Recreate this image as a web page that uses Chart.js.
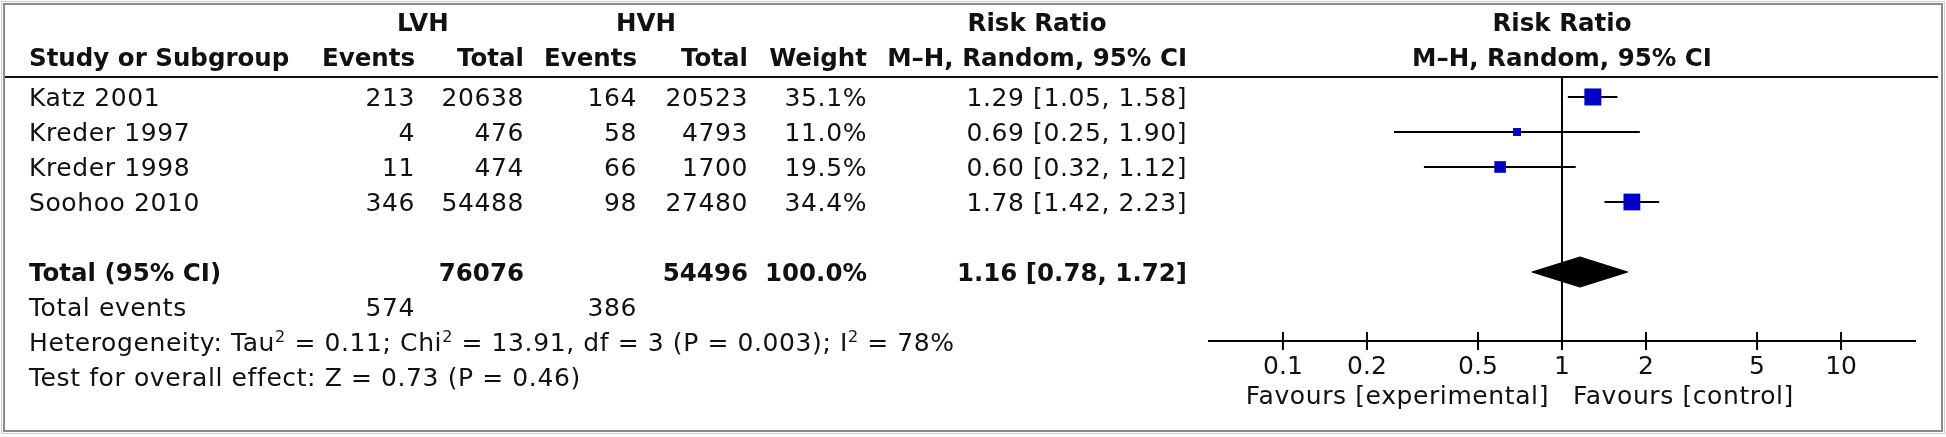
<!DOCTYPE html>
<html>
<head>
<meta charset="utf-8">
<title>Forest plot LVH vs HVH</title>
<script src="https://cdn.jsdelivr.net/npm/chart.js@4.4.1/dist/chart.umd.min.js"></script>
<style>
  html, body { margin: 0; padding: 0; background: #fff; }
  #forest { display: block; }
</style>
</head>
<body>
<canvas id="forest" width="1946" height="437"></canvas>
<script>
// estudios y datos
const studies = ["Katz 2001", "Kreder 1997", "Kreder 1998", "Soohoo 2010"];
const lvhEvents = [213, 4, 11, 346];
const lvhTotal = [20638, 476, 474, 54488];
const hvhEvents = [164, 58, 66, 98];
const hvhTotal = [20523, 4793, 1700, 27480];
const weights = [35.1, 11.0, 19.5, 34.4];
const riskRatio = [1.29, 0.69, 0.60, 1.78];
const ciLow = [1.05, 0.25, 0.32, 1.42];
const ciHigh = [1.58, 1.90, 1.12, 2.23];

// totales
const totalN = [76076, 54496];
const totalEvents = [574, 386];
const pooled = [1.16, 0.78, 1.72]; // RR, low, high
const hetStats = [0.11, 13.91, 3, "0.003", 78]; // Tau2, Chi2, df, P, I2
const overall = [0.73, 0.46]; // Z, P

const xTicks = [0.1, 0.2, 0.5, 1, 2, 5, 10];

const FONT = '"DejaVu Sans", "Lucida Grande", sans-serif';
const FS = 25;      // texto normal
const FSB = 24.5;   // texto en negrita
const SPACING = "0.6px";
const INK = "#111";
const BLUE = "#0000c8";

// filas (eje y oculto): estudios 0..3, total en 5, texto de pie 6..8
const totalRow = studies.length + 1;
const yMin = -0.57, yMax = 6.97;

// columnas de la tabla (borde derecho)
const col = { study: 29, lvhE: 415, lvhT: 524, hvhE: 637, hvhT: 748, w: 867, ci: 1187 };

const fmtCI = (v, l, h) => v.toFixed(2) + " [" + l.toFixed(2) + ", " + h.toFixed(2) + "]";

// lado del cuadrado según el peso
const sideFor = (w) => 17 * Math.pow(w / 35.1, 0.65);

// datasets
const datasets = [];
// línea vertical de no efecto
datasets.push({
  type: "line", data: [{ x: 1, y: yMin }, { x: 1, y: yMax }],
  borderColor: "#000", borderWidth: 2, pointRadius: 0, order: 5,
});
// intervalos de confianza
studies.forEach((s, i) => {
  datasets.push({
    type: "line", data: [{ x: ciLow[i], y: i }, { x: ciHigh[i], y: i }],
    borderColor: "#000", borderWidth: 2, pointRadius: 0, order: 4,
  });
});
// cuadrados
datasets.push({
  type: "scatter",
  data: riskRatio.map((v, i) => ({ x: v, y: i })),
  pointStyle: "rect",
  pointRadius: weights.map((w) => sideFor(w) / Math.SQRT2),
  pointHoverRadius: weights.map((w) => sideFor(w) / Math.SQRT2),
  backgroundColor: BLUE, borderColor: BLUE, borderWidth: 0, order: 1,
});
// rombo del efecto combinado
const dh = 0.43;
datasets.push({
  type: "line",
  data: [
    { x: pooled[1], y: totalRow }, { x: pooled[0], y: totalRow - dh },
    { x: pooled[2], y: totalRow }, { x: pooled[0], y: totalRow + dh },
    { x: pooled[1], y: totalRow },
  ],
  fill: "shape", backgroundColor: "#000", borderColor: "#000",
  borderWidth: 1, pointRadius: 0, tension: 0, order: 2,
});

function setFont(ctx, bold, size) {
  ctx.font = (bold ? "bold " : "") + (size || (bold ? FSB : FS)) + "px " + FONT;
  ctx.letterSpacing = bold ? "0px" : SPACING;
}

function text(ctx, str, x, y, align, bold, size) {
  setFont(ctx, bold, size);
  ctx.textAlign = align || "left";
  ctx.fillText(str, x, y);
}

// texto con superíndices
function rich(ctx, parts, x, y) {
  let cx = x;
  ctx.textAlign = "left";
  parts.forEach((p) => {
    if (p.sup) {
      setFont(ctx, false, Math.round(FS * 0.62));
      ctx.fillText(p.t, cx, y - FS * 0.36);
    } else {
      setFont(ctx, false, FS);
      ctx.fillText(p.t, cx, y);
    }
    cx += ctx.measureText(p.t).width;
  });
}

const tablePlugin = {
  id: "table",
  beforeDraw(chart) {
    const c = chart.ctx;
    c.save();
    c.fillStyle = "#fff";
    c.fillRect(0, 0, chart.width, chart.height);
    c.strokeStyle = "#d0d0d0"; c.lineWidth = 1;
    c.strokeRect(1.5, 1.5, chart.width - 3, chart.height - 5);
    c.strokeStyle = "#8a8a8a"; c.lineWidth = 2;
    c.strokeRect(4, 4, chart.width - 8, chart.height - 10);
    c.restore();
  },
  afterDraw(chart) {
    const c = chart.ctx;
    const ys = chart.scales.y, xs = chart.scales.x;
    const rowY = (r) => ys.getPixelForValue(r) + FS * 0.36;
    c.save();
    c.fillStyle = INK;
    c.textBaseline = "alphabetic";

    // regla del encabezado
    c.strokeStyle = "#111"; c.lineWidth = 2;
    c.beginPath(); c.moveTo(5, chart.chartArea.top); c.lineTo(1938, chart.chartArea.top); c.stroke();

    // encabezados
    const h1 = rowY(-2.14), h2 = rowY(-1.14);
    setFont(c, true);
    const evW = c.measureText("Events").width;
    const mhW = c.measureText("M\u2013H, Random, 95% CI").width;
    text(c, "LVH", (col.lvhE - evW + col.lvhT) / 2, h1, "center", true);
    text(c, "HVH", (col.hvhE - evW + col.hvhT) / 2, h1, "center", true);
    text(c, "Risk Ratio", col.ci - mhW / 2, h1, "center", true);
    text(c, "Study or Subgroup", col.study, h2, "left", true);
    text(c, "Events", col.lvhE, h2, "right", true);
    text(c, "Total", col.lvhT, h2, "right", true);
    text(c, "Events", col.hvhE, h2, "right", true);
    text(c, "Total", col.hvhT, h2, "right", true);
    text(c, "Weight", col.w, h2, "right", true);
    text(c, "M\u2013H, Random, 95% CI", col.ci, h2, "right", true);
    const x1 = xs.getPixelForValue(1);
    text(c, "Risk Ratio", x1, h1, "center", true);
    text(c, "M\u2013H, Random, 95% CI", x1, h2, "center", true);

    // filas de estudios
    studies.forEach((s, i) => {
      const y = rowY(i);
      text(c, s, col.study, y);
      text(c, String(lvhEvents[i]), col.lvhE, y, "right");
      text(c, String(lvhTotal[i]), col.lvhT, y, "right");
      text(c, String(hvhEvents[i]), col.hvhE, y, "right");
      text(c, String(hvhTotal[i]), col.hvhT, y, "right");
      text(c, weights[i].toFixed(1) + "%", col.w, y, "right");
      text(c, fmtCI(riskRatio[i], ciLow[i], ciHigh[i]), col.ci, y, "right");
    });

    // total
    const yt = rowY(totalRow);
    text(c, "Total (95% CI)", col.study, yt, "left", true);
    text(c, String(totalN[0]), col.lvhT, yt, "right", true);
    text(c, String(totalN[1]), col.hvhT, yt, "right", true);
    text(c, "100.0%", col.w, yt, "right", true);
    text(c, fmtCI(pooled[0], pooled[1], pooled[2]), col.ci, yt, "right", true);

    const ye = rowY(totalRow + 1);
    text(c, "Total events", col.study, ye);
    text(c, String(totalEvents[0]), col.lvhE, ye, "right");
    text(c, String(totalEvents[1]), col.hvhE, ye, "right");

    rich(c, [
      { t: "Heterogeneity: Tau" }, { t: "2", sup: true },
      { t: " = " + hetStats[0].toFixed(2) + "; Chi" }, { t: "2", sup: true },
      { t: " = " + hetStats[1].toFixed(2) + ", df = " + hetStats[2] + " (P = " + hetStats[3] + "); I" },
      { t: "2", sup: true }, { t: " = " + hetStats[4] + "%" },
    ], col.study, rowY(totalRow + 2));
    text(c, "Test for overall effect: Z = " + overall[0].toFixed(2) + " (P = " + overall[1].toFixed(2) + ")",
      col.study, rowY(totalRow + 3));

    // marcas del eje que cruzan la línea
    const ay = chart.chartArea.bottom;
    c.strokeStyle = "#000"; c.lineWidth = 2;
    xTicks.forEach((v) => {
      const px = xs.getPixelForValue(v);
      c.beginPath(); c.moveTo(px, ay - 9); c.lineTo(px, ay + 9); c.stroke();
    });

    // etiquetas de favorece
    const yf = ay + 54 + FS * 0.36;
    text(c, "Favours [experimental]", x1 - 13, yf, "right");
    text(c, "Favours [control]", x1 + 11, yf, "left");
    c.restore();
  },
};

new Chart(document.getElementById("forest").getContext("2d"), {
  type: "scatter",
  data: { datasets },
  options: {
    responsive: false,
    animation: false,
    devicePixelRatio: 1,
    layout: { padding: { left: 1209, right: 31, top: 77, bottom: 0 } },
    plugins: { legend: { display: false }, tooltip: { enabled: false } },
    events: [],
    scales: {
      x: {
        type: "logarithmic",
        min: Math.pow(10, -1.265),
        max: Math.pow(10, 1.265),
        afterBuildTicks: (s) => { s.ticks = xTicks.map((v) => ({ value: v })); },
        afterFit: (s) => { s.height = 96; },
        ticks: {
          autoSkip: false, maxRotation: 0, padding: 11, color: INK,
          font: { family: FONT, size: FS },
          callback: (v) => String(v),
        },
        grid: { drawOnChartArea: false, drawTicks: false },
        border: { display: true, color: "#000", width: 2 },
      },
      y: { type: "linear", reverse: true, min: yMin, max: yMax, display: false },
    },
  },
  plugins: [tablePlugin],
});
</script>
</body>
</html>
